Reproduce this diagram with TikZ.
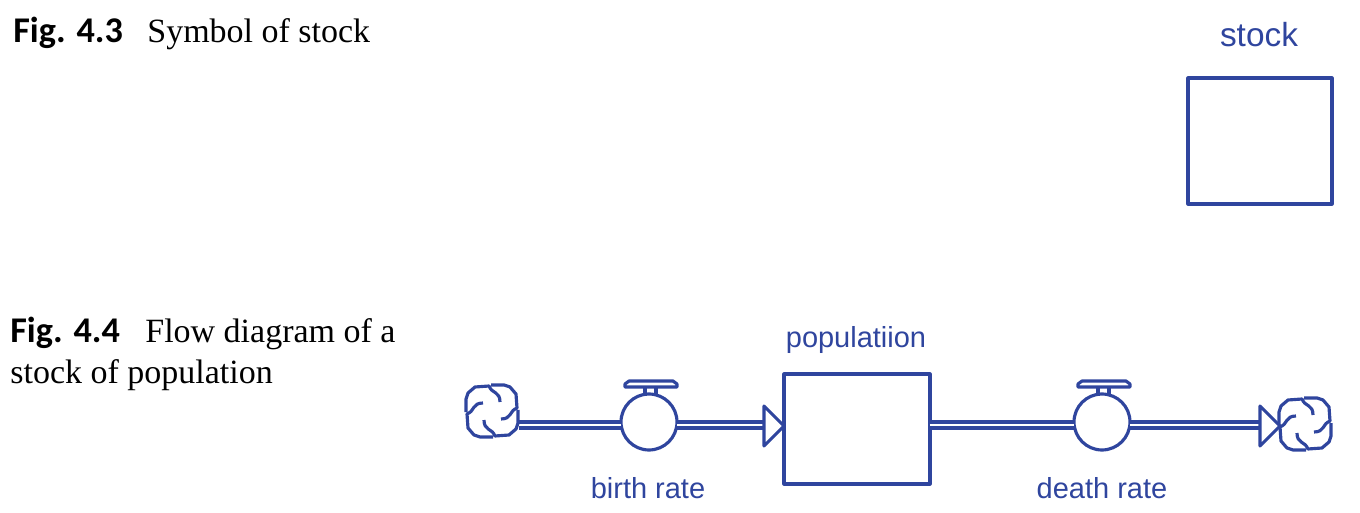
\documentclass[tikz,border=0pt]{standalone}
\usepackage{fontspec}
\setmainfont{Liberation Serif}
\newfontfamily\figfont{Carlito}
\newfontfamily\symfont{Liberation Sans}
\definecolor{symblue}{HTML}{2F459E}
\tikzset{
	symline/.style={draw=symblue,line width=1.8pt,line join=round},
	flowline/.style={draw=symblue,line width=1.8pt,double=white,double distance=1.7pt},
	stockbox/.style={symline,rectangle,inner sep=0pt,outer sep=0pt},
	valve/.style={symline,circle,fill=white,inner sep=0pt,outer sep=0pt,minimum size=1.12cm},
	cloudbox/.style={rectangle,inner sep=0pt,minimum width=1.08cm,minimum height=1cm},
	symlabel/.style={text=symblue,font=\symfont\fontsize{16.5pt}{18pt}\selectfont},
	figlabel/.style={anchor=base west,inner sep=0pt,font=\figfont\bfseries\fontsize{20.6pt}{22pt}\selectfont},
	figtext/.style={anchor=base west,inner sep=0pt,font=\fontsize{19.35pt}{22pt}\selectfont},
	cloudsym/.pic={
		\foreach \a in {0,90,180,270}
			\draw[symline,rotate=\a] (-26,1) -- (-26,-12) -- (-24,-18) -- (-17,-24) -- (-3,-25) .. controls (0,-17) and (8,-20) .. (8,-9);
	},
	valvetop/.pic={
		\draw[symline] (-4,-34) -- (-4,-26) (7,-34) -- (7,-26);
		\draw[symline,fill=white] (-24,-35) -- (-24,-38) -- (-20,-41) -- (24,-41) -- (28,-38) -- (28,-35) -- cycle;
	},
	flowhead/.pic={
		\draw[symline,fill=white] (0,-20) -- (20,0) -- (0,20) -- cycle;
	}
}
\begin{document}
\begin{tikzpicture}[x=0.02cm,y=-0.02cm]
	\useasboundingbox (0,0) rectangle (1360,513);
	% captions
	\node[figlabel] (figa) at (13,43) {Fig. 4.3};
	\node[figtext] (capa) at (147,43) {Symbol of stock};
	\node[figlabel] (figb) at (10,343) {Fig. 4.4};
	\node[figtext] (capb) at (145,343) {Flow diagram of a};
	\node[figtext] (capc) at (10,383) {stock of population};
	% single stock
	\node[stockbox,minimum width=2.88cm,minimum height=2.52cm] (stock) at (1260,141) {};
	\node[symlabel,font=\symfont\fontsize{19pt}{22pt}\selectfont] (stocklabel) at (1259,35) {stock};
	% flow diagram
	\node[stockbox,minimum width=2.92cm,minimum height=2.2cm] (pop) at (857,429) {};
	\node[cloudbox] (source) at (492,411) {};
	\node[cloudbox] (sink) at (1305,424) {};
	\node[valve] (birth) at (649,422) {};
	\node[valve] (death) at (1102,422) {};
	\coordinate (birthflow) at (649,425);
	\coordinate (deathflow) at (1102,425);
	\coordinate (birthhead) at (764,426);
	\coordinate (deathhead) at (1260,426);
	\draw[flowline] (source.east |- birthflow) -- (birthflow -| birth.west);
	\draw[flowline] (birthflow -| birth.east) -- (birthflow -| birthhead);
	\draw[flowline] (pop.east |- deathflow) -- (deathflow -| death.west);
	\draw[flowline] (deathflow -| death.east) -- (deathflow -| deathhead);
	\pic at (sink) {cloudsym};
	\pic at (source) {cloudsym};
	\pic at (birthhead) {flowhead};
	\pic at (deathhead) {flowhead};
	\pic at (birth) {valvetop};
	\pic at (death) {valvetop};
	\node[symlabel] (poplabel) at (856,340) {populatiion};
	\node[symlabel] (birthlabel) at (648,488) {birth rate};
	\node[symlabel] (deathlabel) at (1102,488) {death rate};
\end{tikzpicture}
\end{document}
